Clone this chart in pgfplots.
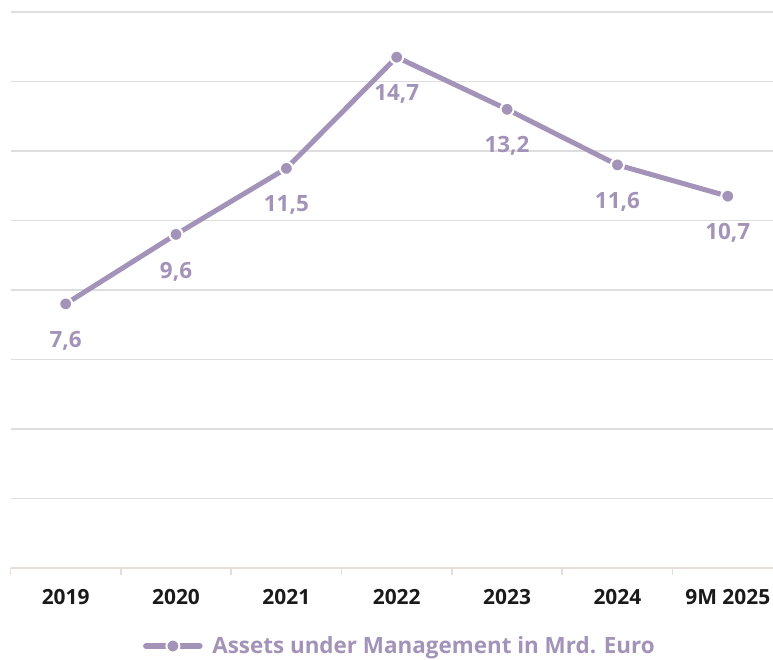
\documentclass[border=0pt]{standalone}
\usepackage{pgfplots}
\pgfplotsset{compat=1.18}
\usepackage{fontspec}
\setmainfont{Open Sans}

\definecolor{lc}{HTML}{A393B8}
\definecolor{gridc}{HTML}{DEDEDE}
\definecolor{axisc}{HTML}{E6DED6}
\definecolor{tickc}{HTML}{1A1A1A}

\begin{document}
\begin{tikzpicture}
\useasboundingbox (0,0) rectangle (773bp,660bp);
\begin{axis}[
    at={(10.5bp,92bp)}, anchor=south west,
    scale only axis,
    width=762.5bp, height=556bp,
    xmin=-0.5, xmax=6.41,
    ymin=0, ymax=16,
    clip=false,
    axis x line=bottom, axis y line=left,
    x axis line style={draw=axisc, line width=1.5bp, -},
    y axis line style={draw=none},
    ytick={2,4,...,16},
    yticklabels={},
    ymajorgrids,
    grid style={draw=gridc, line width=1.3bp},
    xtick={0,...,6},
    xticklabels={2019,2020,2021,2022,2023,2024,9M 2025},
    major tick length=0pt,
    xticklabel style={anchor=base, yshift=-36bp, text=tickc,
        font=\bfseries\fontsize{21}{21}\selectfont},
    extra x ticks={-0.5,0.5,1.5,2.5,3.5,4.5,5.5},
    extra x tick labels={},
    extra x tick style={major tick length=7bp, tick align=outside,
        tick style={draw=axisc, line width=1.5bp}},
    legend style={at={(0.5108,-0.1403)}, anchor=center, draw=none, fill=none,
        font=\bfseries\fontsize{22.5}{22.5}\selectfont, text=lc},
    legend image code/.code={
        \draw[lc, line width=5.5bp, line cap=round] (0bp,0bp) -- (54bp,0bp);
        \fill[lc, draw=white, line width=2bp] (27bp,0bp) circle (6.5bp);
        \path (62bp,0bp);
    },
]
\addplot[lc, line width=5bp, mark=*, mark size=6.5bp,
    mark options={fill=lc, draw=white, line width=2bp},
    point meta=explicit symbolic,
    nodes near coords,
    nodes near coords style={anchor=center, yshift=-37bp, text=lc,
        font=\bfseries\fontsize{22.5}{22.5}\selectfont}]
coordinates {
    (0,7.6) [7,6]
    (1,9.6) [9,6]
    (2,11.5) [11,5]
    (3,14.7) [14,7]
    (4,13.2) [13,2]
    (5,11.6) [11,6]
    (6,10.7) [10,7]
};
\addlegendentry{Assets under Management in Mrd. Euro}
\end{axis}
\end{tikzpicture}
\end{document}
